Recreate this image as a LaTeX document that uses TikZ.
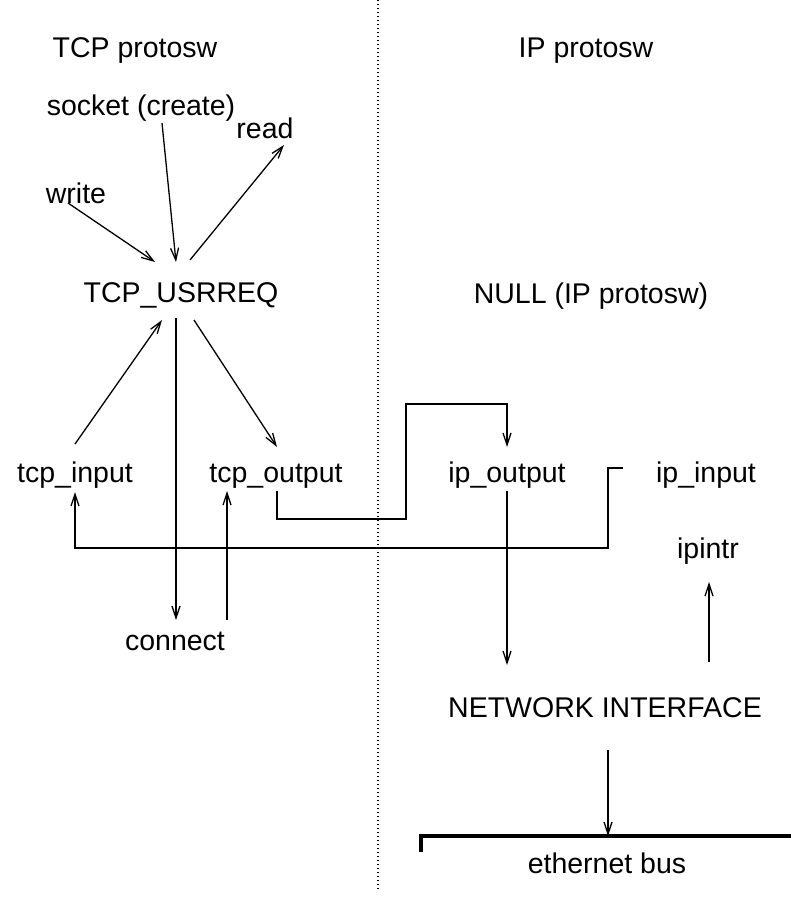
\documentclass[tikz,border=0pt]{standalone}
\usepackage{fontspec}
\setmainfont{Liberation Sans}
\usetikzlibrary{arrows.meta,calc}
\begin{document}
\begin{tikzpicture}[x=1pt,y=-1pt,
  lbl/.style={anchor=base,inner sep=0pt,font=\fontsize{28.5}{34}\selectfont},
  wire/.style={line width=1.3pt,line join=miter},
  arr/.style={wire,-{Straight Barb[length=12pt,width=8pt,line width=1.3pt]}},
  bus/.style={line width=3.5pt},
  divider/.style={line width=1.2pt,dash pattern=on 1.4pt off 2.6pt}
]
\useasboundingbox[fill=white] (0,0) rectangle (791,899);

% divider
\draw[divider] (378,0) -- (378,890);

% labels
\node[lbl] (tcpp)  at (135,58)  {TCP protosw};
\node[lbl] (ipp)   at (586,58)  {IP protosw};
\node[lbl] (sock)  at (141,115) {socket (create)};
\node[lbl] (read)  at (265,138) {read};
\node[lbl] (write) at (76,203)  {write};
\node[lbl] (usr)   at (181,302) {TCP\_USRREQ};
\node[lbl] (null)  at (591,303) {NULL (IP protosw)};
\node[lbl] (tin)   at (75,482)  {tcp\_input};
\node[lbl] (tout)  at (276,482) {tcp\_output};
\node[lbl] (ipout) at (507,482) {ip\_output};
\node[lbl] (ipin)  at (706,482) {ip\_input};
\node[lbl] (ipintr) at (708,558) {ipintr};
\node[lbl] (conn)  at (175,650) {connect};
\node[lbl] (net)   at (605,717) {NETWORK INTERFACE};
\node[lbl] (eth)   at (607,873) {ethernet bus};

% ethernet bus
\coordinate (busjoin) at (608,836);
\draw[bus] (421,852) -- (421,836) -- (791,836);

% connectors
\draw[arr] ($(write.base)+(-8,0)$) -- ($(usr.base)+(-26,-40)$);
\draw[arr] ($(sock.base)+(21,8)$) -- ($(usr.base)+(-5,-40)$);
\draw[arr] ($(usr.base)+(9,-42)$) -- ($(read.base)+(19,7)$);
\draw[arr] ($(tin.base)+(0,-38)$) -- ($(usr.base)+(-19,18)$);
\draw[arr] ($(usr.base)+(-5,16)$) -- ($(conn.base)+(1,-30)$);
\draw[arr] ($(usr.base)+(13,18)$) -- ($(tout.base)+(1,-35)$);
\draw[arr] ($(conn.base)+(52,-30)$) -- ($(tout.base)+(-49,9)$);
\draw[arr] ($(tout.base)+(1,9)$) -- (277,519) -- (406,519) -- (406,404) -- (507,404) -- ($(ipout.base)+(0,-35)$);
\draw[arr] ($(ipin.base)+(-83,-14)$) -- (608,468) -- (608,548) -- (75,548) -- ($(tin.base)+(0,10)$);
\draw[arr] ($(ipout.base)+(0,9)$) -- ($(net.base)+(-98,-52)$);
\draw[arr] ($(net.base)+(104,-55)$) -- ($(ipintr.base)+(1,24)$);
\draw[arr] ($(net.base)+(3,33)$) -- (busjoin);
\end{tikzpicture}
\end{document}
